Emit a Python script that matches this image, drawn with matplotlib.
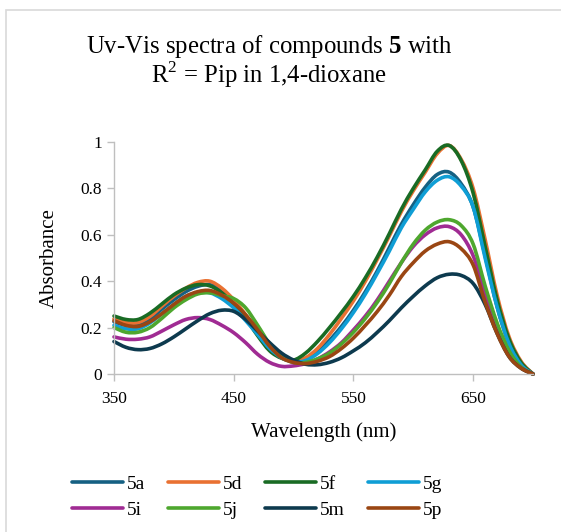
import numpy as np
import matplotlib
matplotlib.use("Agg")
import matplotlib.pyplot as plt
from matplotlib.patches import Rectangle, PathPatch
from matplotlib.path import Path
from matplotlib.lines import Line2D

plt.rcParams['font.family'] = ['Liberation Serif', 'DejaVu Serif']
plt.rcParams['mathtext.fontset'] = 'custom'
plt.rcParams['mathtext.rm'] = 'Liberation Serif'
plt.rcParams['mathtext.bf'] = 'Liberation Serif:bold'

# wavelength grid (nm)
wavelength = np.arange(350, 701, 10)

labels = ['5a', '5d', '5f', '5g', '5i', '5j', '5m', '5p']
colors = ['#156082', '#E97132', '#196B24', '#0F9ED5',
          '#A02B93', '#4EA72E', '#0D3A4E', '#9A4613']

abs_5a = [0.225, 0.210, 0.210, 0.235, 0.280, 0.320, 0.355, 0.378, 0.385, 0.360, 0.310, 0.250,
          0.180, 0.120, 0.075, 0.055, 0.065, 0.095, 0.145, 0.205, 0.275, 0.355, 0.445, 0.545,
          0.645, 0.730, 0.805, 0.860, 0.870, 0.820, 0.720, 0.510, 0.290, 0.130, 0.040, 0.000]
abs_5d = [0.238, 0.222, 0.222, 0.248, 0.292, 0.335, 0.370, 0.395, 0.400, 0.370, 0.320, 0.255,
          0.185, 0.125, 0.080, 0.058, 0.070, 0.110, 0.170, 0.240, 0.315, 0.400, 0.495, 0.595,
          0.700, 0.790, 0.870, 0.950, 0.985, 0.925, 0.800, 0.580, 0.340, 0.160, 0.055, 0.000]
abs_5f = [0.250, 0.235, 0.235, 0.262, 0.302, 0.342, 0.370, 0.385, 0.380, 0.350, 0.300, 0.240,
          0.165, 0.100, 0.068, 0.060, 0.090, 0.140, 0.200, 0.265, 0.335, 0.415, 0.505, 0.605,
          0.710, 0.800, 0.880, 0.960, 0.985, 0.920, 0.780, 0.550, 0.320, 0.150, 0.050, 0.000]
abs_5g = [0.210, 0.195, 0.195, 0.220, 0.260, 0.300, 0.335, 0.350, 0.350, 0.325, 0.285, 0.230,
          0.170, 0.110, 0.070, 0.052, 0.058, 0.088, 0.135, 0.195, 0.265, 0.345, 0.435, 0.530,
          0.630, 0.710, 0.785, 0.835, 0.850, 0.810, 0.720, 0.500, 0.290, 0.130, 0.040, 0.000]
abs_5i = [0.160, 0.150, 0.150, 0.160, 0.185, 0.212, 0.235, 0.243, 0.235, 0.210, 0.178, 0.135,
          0.085, 0.050, 0.033, 0.035, 0.045, 0.065, 0.095, 0.135, 0.190, 0.250, 0.320, 0.400,
          0.480, 0.550, 0.600, 0.630, 0.635, 0.600, 0.510, 0.350, 0.200, 0.090, 0.030, 0.000]
abs_5j = [0.200, 0.180, 0.180, 0.200, 0.240, 0.285, 0.320, 0.345, 0.350, 0.338, 0.325, 0.285,
          0.210, 0.130, 0.075, 0.050, 0.050, 0.065, 0.090, 0.130, 0.180, 0.240, 0.310, 0.390,
          0.480, 0.560, 0.620, 0.655, 0.665, 0.640, 0.560, 0.380, 0.220, 0.100, 0.030, 0.000]
abs_5m = [0.140, 0.115, 0.105, 0.110, 0.130, 0.160, 0.195, 0.230, 0.260, 0.275, 0.270, 0.235,
          0.185, 0.135, 0.090, 0.060, 0.042, 0.040, 0.050, 0.070, 0.100, 0.135, 0.180, 0.230,
          0.285, 0.335, 0.380, 0.415, 0.430, 0.425, 0.390, 0.300, 0.175, 0.075, 0.025, 0.000]
abs_5p = [0.230, 0.210, 0.205, 0.225, 0.260, 0.300, 0.335, 0.355, 0.360, 0.340, 0.305, 0.255,
          0.190, 0.120, 0.070, 0.050, 0.045, 0.055, 0.075, 0.110, 0.155, 0.210, 0.270, 0.340,
          0.420, 0.480, 0.530, 0.560, 0.570, 0.540, 0.470, 0.310, 0.175, 0.075, 0.025, 0.000]

series = [abs_5a, abs_5d, abs_5f, abs_5g, abs_5i, abs_5j, abs_5m, abs_5p]


def smooth_path(x, y):
    # Excel-style smoothed line: cubic Bezier segments through the data points
    pts = np.column_stack([x, y]).astype(float)
    verts = [pts[0]]
    codes = [Path.MOVETO]
    n = len(pts)
    for i in range(n - 1):
        p0 = pts[max(i - 1, 0)]
        p1 = pts[i]
        p2 = pts[i + 1]
        p3 = pts[min(i + 2, n - 1)]
        verts += [p1 + (p2 - p0) / 6, p2 - (p3 - p1) / 6, p2]
        codes += [Path.CURVE4] * 3
    return Path(verts, codes)


fig = plt.figure(figsize=(5.61, 5.32), dpi=100)

# chart area border
fig.patches.append(Rectangle((6 / 561, -0.1), 1.2, 1.1 - 10 / 532,
                             transform=fig.transFigure, fill=False,
                             edgecolor='#D9D9D9', linewidth=1.2))

ax = fig.add_axes([114 / 561, 1 - 374 / 532, 419 / 561, 232 / 532])

handles = {}
for y, lab, c in zip(series, labels, colors):
    patch = PathPatch(smooth_path(wavelength, y), facecolor='none', edgecolor=c,
                      lw=2.6, joinstyle='round', capstyle='round', clip_on=False)
    ax.add_patch(patch)
    handles[lab] = Line2D([], [], color=c, lw=2.6, solid_capstyle='round')

ax.set_xlim(350, 700)
ax.set_ylim(0, 1)
ax.set_xticks([350, 450, 550, 650])
ax.set_yticks([0, 0.2, 0.4, 0.6, 0.8, 1])
ax.set_yticklabels(['0', '0.2', '0.4', '0.6', '0.8', '1'])
ax.tick_params(axis='both', labelsize=12.5, color='#BFBFBF', length=5, width=1,
               labelcolor='#000000')
ax.tick_params(axis='x', pad=7)
for side in ['top', 'right']:
    ax.spines[side].set_visible(False)
for side in ['left', 'bottom']:
    ax.spines[side].set_color('#BFBFBF')
    ax.spines[side].set_linewidth(1)

ax.set_xlabel('Wavelength (nm)', fontsize=15, labelpad=11)
ax.set_ylabel('Absorbance', fontsize=15, labelpad=16)

fig.text(0.48, 1 - 47 / 532, r'Uv-Vis spectra of compounds $\mathbf{5}$ with',
         ha='center', va='center', fontsize=17.8)
fig.text(0.48, 1 - 75 / 532, r'R$^2$ = Pip in 1,4-dioxane',
         ha='center', va='center', fontsize=17.8)

# legend filled row by row, 4 per row
order = ['5a', '5i', '5d', '5j', '5f', '5m', '5g', '5p']
fig.legend([handles[k] for k in order], order, loc='center',
           bbox_to_anchor=(257 / 561, 1 - 497 / 532), ncol=4,
           frameon=False, fontsize=14, handlelength=2.6, handletextpad=0.2,
           columnspacing=1.2, labelspacing=0.45)

fig.savefig('out.png', dpi=100)
